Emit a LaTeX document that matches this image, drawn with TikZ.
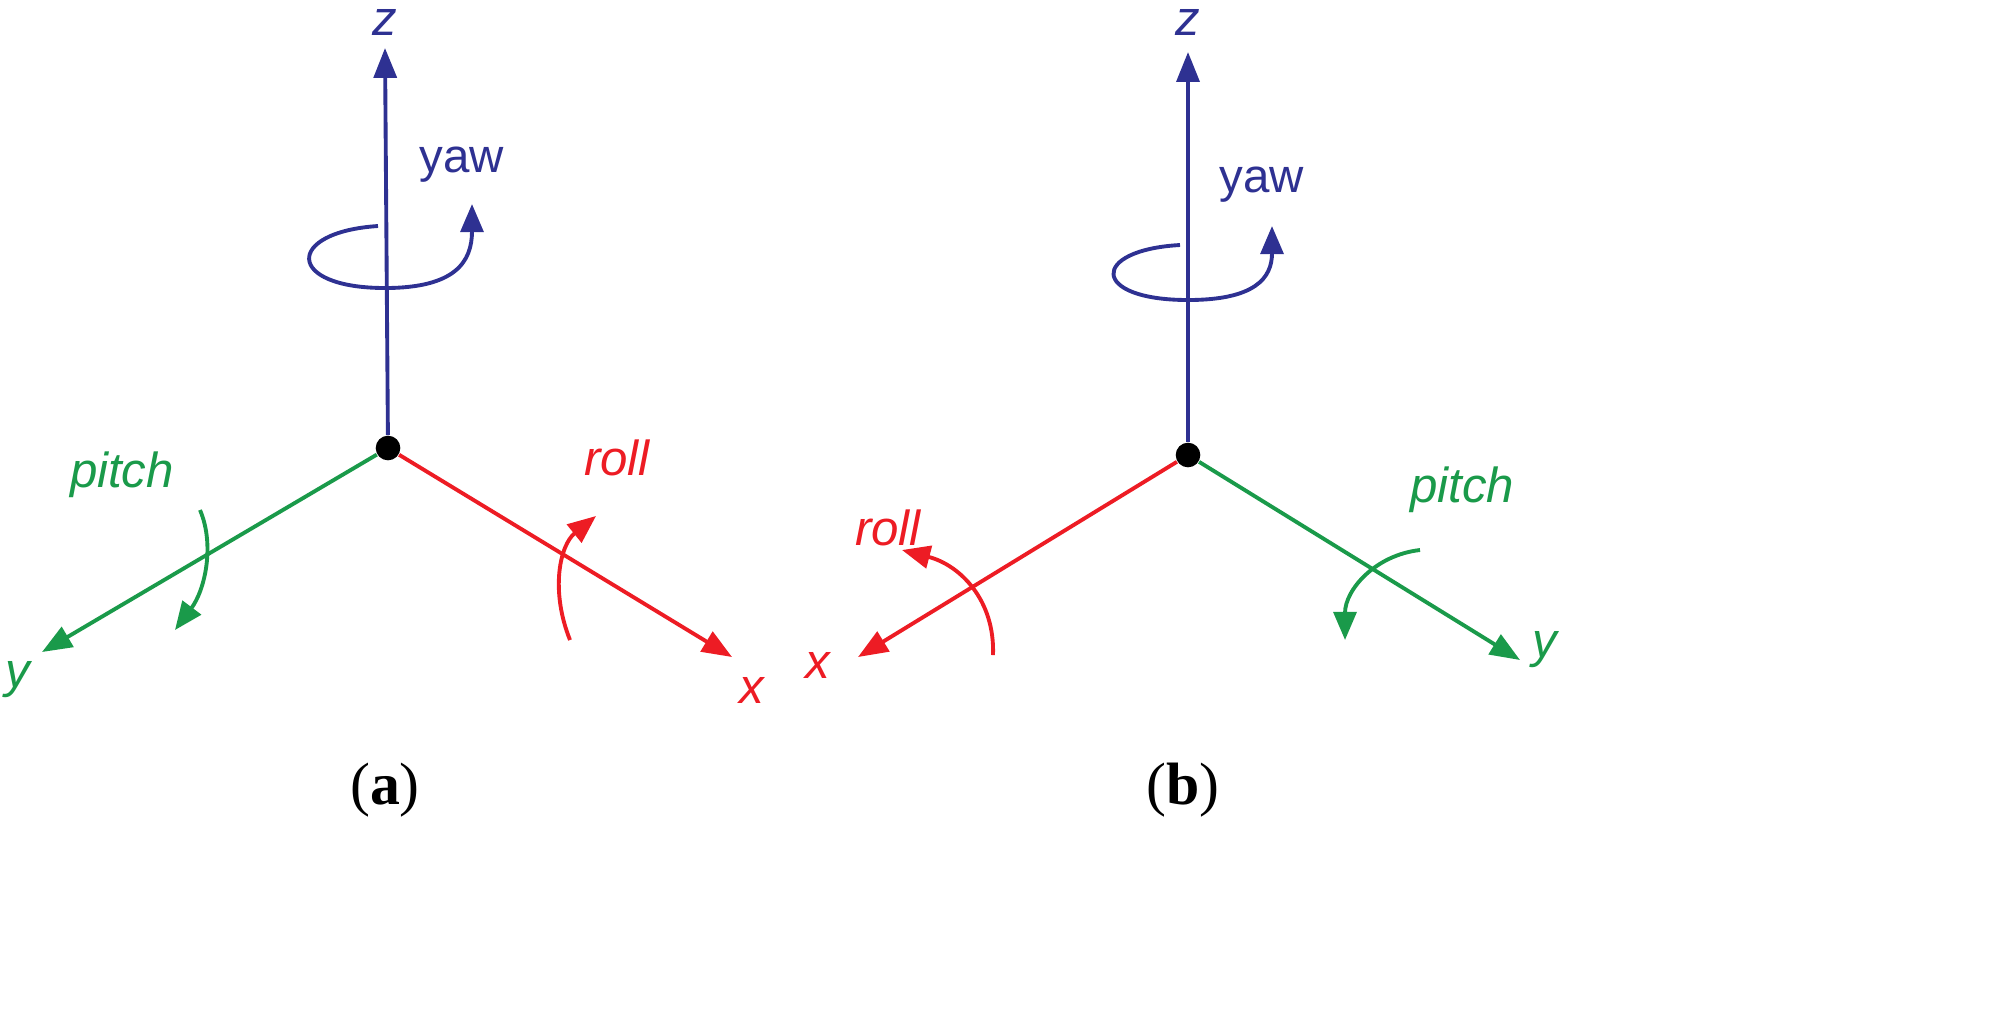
\documentclass[tikz,border=0pt]{standalone}
\usepackage{fontspec}
\setmainfont{Liberation Sans}
\newfontfamily\capfont{Liberation Serif}
\usetikzlibrary{arrows.meta}
\definecolor{cb}{RGB}{46,49,146}
\definecolor{cr}{RGB}{237,28,36}
\definecolor{cg}{RGB}{26,154,74}
\begin{document}
\begin{tikzpicture}[x=0.01cm,y=-0.01cm,
 ax/.style={line width=1.1pt,-{Triangle[length=8.5pt,width=6.5pt]}},
 rot/.style={line width=1.1pt,-{Triangle[length=8pt,width=6.5pt]}},
 lab/.style={font=\fontsize{14}{16}\selectfont\itshape},
 uplab/.style={font=\fontsize{13.5}{16}\selectfont},
 captxt/.style={font=\capfont\fontsize{17}{20}\selectfont}]
\useasboundingbox (0,0) rectangle (2010,1014);
% left
\node[circle,fill=black,minimum size=7pt,inner sep=0] (o1) at (388,448) {};
\coordinate (z1) at (385,48); \coordinate (y1) at (42,652); \coordinate (x1) at (732,657);
\draw[ax,cb] (o1) -- (z1);
\draw[ax,cg] (o1) -- (y1);
\draw[ax,cr] (o1) -- (x1);
\node[lab,cb] (zl1) at (385,22) {z};
\node[lab,cg] (yl1) at (18,680) {y};
\node[lab,cr] (xl1) at (752,690) {x};
\node[uplab,cb] (yaw1) at (462,165) {yaw};
\draw[rot,cb] (378,226) .. controls (285,232) and (285,288) .. (385,288) .. controls (455,288) and (472,262) .. (472,204);
\node[lab,cg] (p1) at (122,475) {pitch};
\draw[rot,cg] (200,510) .. controls (215,545) and (205,590) .. (175,630);
\node[lab,cr] (r1) at (617,458) {roll};
\draw[rot,cr] (570,640) .. controls (550,590) and (560,545) .. (596,516);
\node[captxt] (a) at (385,790) {(\textbf{a})};
% right
\node[circle,fill=black,minimum size=7pt,inner sep=0] (o2) at (1188,455) {};
\coordinate (z2) at (1188,52); \coordinate (x2) at (858,657); \coordinate (y2) at (1520,660);
\draw[ax,cb] (o2) -- (z2);
\draw[ax,cr] (o2) -- (x2);
\draw[ax,cg] (o2) -- (y2);
\node[lab,cb] (zl2) at (1188,22) {z};
\node[lab,cr] (xl2) at (818,665) {x};
\node[lab,cg] (yl2) at (1545,650) {y};
\node[uplab,cb] (yaw2) at (1262,185) {yaw};
\draw[rot,cb] (1180,245) .. controls (1090,250) and (1090,300) .. (1188,300) .. controls (1255,300) and (1272,278) .. (1272,226);
\node[lab,cr] (r2) at (888,528) {roll};
\draw[rot,cr] (993,655) .. controls (995,600) and (960,565) .. (902,550);
\node[lab,cg] (p2) at (1462,490) {pitch};
\draw[rot,cg] (1420,550) .. controls (1375,555) and (1345,590) .. (1345,640);
\node[captxt] (b) at (1183,790) {(\textbf{b})};
\end{tikzpicture}
\end{document}
